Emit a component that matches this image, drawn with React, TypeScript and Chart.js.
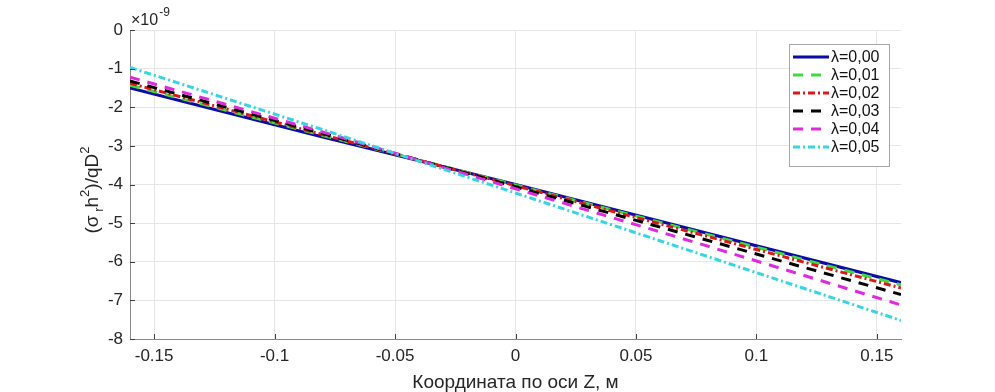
import React, { useEffect, useRef } from "react";
import { Chart, registerables } from "chart.js";

Chart.register(...registerables);

const xValues = [-0.16, -0.08, 0, 0.08, 0.16];
const lambda000 = [-1.5, -2.77, -4.0, -5.27, -6.54];
const lambda001 = [-1.43, -2.73, -4.01, -5.3, -6.6];
const lambda002 = [-1.38, -2.71, -4.03, -5.35, -6.68];
const lambda003 = [-1.32, -2.68, -4.06, -5.45, -6.85];
const lambda004 = [-1.22, -2.64, -4.11, -5.6, -7.12];
const lambda005 = [-0.97, -2.58, -4.22, -5.87, -7.52];
const seriesLabels = ["λ=0,00", "λ=0,01", "λ=0,02", "λ=0,03", "λ=0,04", "λ=0,05"];
const xTicks = [-0.15, -0.1, -0.05, 0, 0.05, 0.1, 0.15];
const yTicks = [0, -1, -2, -3, -4, -5, -6, -7, -8];

const FONT = '"Liberation Sans", Arial, Helvetica, sans-serif';
const TEXT = "#262626";

const styles = [
  { color: "#0b0ba6", dash: [] as number[], width: 3.2 },
  { color: "#3fdc3f", dash: [10, 8], width: 3 },
  { color: "#dd1616", dash: [7, 3, 2, 3], width: 3 },
  { color: "#000000", dash: [10, 8], width: 3 },
  { color: "#e02ae0", dash: [10, 8], width: 3 },
  { color: "#35d6e2", dash: [7, 3, 2, 3], width: 3 },
];

const allSeries = [lambda000, lambda001, lambda002, lambda003, lambda004, lambda005];

const overlay = {
  id: "overlay",
  afterDraw(chart: any) {
    const ctx = chart.ctx as CanvasRenderingContext2D;
    const { left, right, top, bottom } = chart.chartArea;
    const xs = chart.scales.x;
    const ys = chart.scales.y;
    ctx.save();
    // inward tick marks
    ctx.strokeStyle = "#404040";
    ctx.lineWidth = 1;
    ctx.setLineDash([]);
    for (const v of xTicks) {
      const px = Math.round(xs.getPixelForValue(v)) + 0.5;
      ctx.beginPath();
      ctx.moveTo(px, bottom);
      ctx.lineTo(px, bottom - 5);
      ctx.stroke();
    }
    for (const v of yTicks) {
      const py = Math.round(ys.getPixelForValue(v)) + 0.5;
      ctx.beginPath();
      ctx.moveTo(left, py);
      ctx.lineTo(left + 5, py);
      ctx.stroke();
    }
    // exponent label
    ctx.fillStyle = TEXT;
    ctx.textBaseline = "alphabetic";
    ctx.textAlign = "left";
    ctx.font = `16px ${FONT}`;
    ctx.fillText("×10", left + 1, top - 5);
    const w10 = ctx.measureText("×10").width;
    ctx.font = `12px ${FONT}`;
    ctx.fillText("-9", left + 1 + w10 + 1, top - 14);

    // x title
    ctx.font = `19px ${FONT}`;
    ctx.textAlign = "center";
    ctx.fillText("Координата по оси Z, м", (left + right) / 2, bottom + 49);

    // y title with sub/superscripts (rotated)
    const parts: { t: string; size: number; dy: number }[] = [
      { t: "(σ", size: 19, dy: 0 },
      { t: " r", size: 13, dy: 5 },
      { t: "h", size: 19, dy: 0 },
      { t: "2", size: 13, dy: -9 },
      { t: ")/qD", size: 19, dy: 0 },
      { t: "2", size: 13, dy: -9 },
    ];
    let total = 0;
    const widths: number[] = [];
    for (const p of parts) {
      ctx.font = `${p.size}px ${FONT}`;
      const w = ctx.measureText(p.t).width;
      widths.push(w);
      total += w;
    }
    ctx.translate(98, 190);
    ctx.rotate(-Math.PI / 2);
    ctx.textAlign = "left";
    let cx = -total / 2;
    parts.forEach((p, i) => {
      ctx.font = `${p.size}px ${FONT}`;
      ctx.fillText(p.t, cx, p.dy);
      cx += widths[i];
    });
    ctx.setTransform(1, 0, 0, 1, 0, 0);

    // legend box
    const bx = right - 112;
    const by = top + 14;
    const bw = 100;
    const bh = 122;
    ctx.fillStyle = "#ffffff";
    ctx.fillRect(bx, by, bw, bh);
    ctx.strokeStyle = "#a8a8a8";
    ctx.lineWidth = 1;
    ctx.strokeRect(bx + 0.5, by + 0.5, bw, bh);
    ctx.font = `16px ${FONT}`;
    ctx.textAlign = "left";
    ctx.textBaseline = "middle";
    seriesLabels.forEach((lab, i) => {
      const ry = by + 13 + i * 18;
      const st = styles[i];
      ctx.strokeStyle = st.color;
      ctx.lineWidth = st.width;
      ctx.setLineDash(st.dash);
      ctx.beginPath();
      ctx.moveTo(bx + 4, ry);
      ctx.lineTo(bx + 40, ry);
      ctx.stroke();
      ctx.setLineDash([]);
      ctx.fillStyle = "#111111";
      ctx.fillText(lab, bx + 42, ry + 1);
    });
    ctx.restore();
  },
};

export default function App() {
  const ref = useRef<HTMLCanvasElement | null>(null);
  useEffect(() => {
    document.body.style.margin = "0";
    const canvas = ref.current!;
    const datasets = allSeries.map((vals, i) => ({
      label: seriesLabels[i],
      data: vals.map((y, j) => ({ x: xValues[j], y })),
      borderColor: styles[i].color,
      backgroundColor: styles[i].color,
      borderWidth: styles[i].width,
      borderDash: styles[i].dash,
      pointRadius: 0,
      tension: 0,
      fill: false,
      order: 5 - i,
    }));
    const chart = new Chart(canvas, {
      type: "line",
      data: { datasets },
      options: {
        responsive: false,
        animation: false,
        layout: { padding: { left: 0, right: 94, top: 30, bottom: 0 } },
        plugins: {
          legend: { display: false },
          tooltip: { enabled: false },
        },
        scales: {
          x: {
            type: "linear",
            min: -0.16,
            max: 0.16,
            afterBuildTicks: (scale: any) => {
              scale.ticks = xTicks.map((v) => ({ value: v }));
            },
            afterFit: (scale: any) => {
              scale.height = 53;
            },
            ticks: {
              autoSkip: false,
              maxRotation: 0,
              padding: 7,
              color: TEXT,
              font: { family: FONT, size: 17 },
              callback: (v: any) => String(Number(Number(v).toFixed(2))),
            },
            grid: { color: "#e6e6e6", drawTicks: false, lineWidth: 1 },
            border: { display: true, color: "#8a8a8a", width: 1 },
          },
          y: {
            type: "linear",
            min: -8,
            max: 0,
            afterBuildTicks: (scale: any) => {
              scale.ticks = yTicks.map((v) => ({ value: v }));
            },
            afterFit: (scale: any) => {
              scale.width = 130;
            },
            ticks: {
              autoSkip: false,
              padding: 7,
              color: TEXT,
              font: { family: FONT, size: 17 },
              callback: (v: any) => String(v),
            },
            grid: { color: "#e6e6e6", drawTicks: false, lineWidth: 1 },
            border: { display: true, color: "#8a8a8a", width: 1 },
          },
        },
      },
      plugins: [overlay],
    } as any);
    return () => chart.destroy();
  }, []);
  return (
    <div style={{ width: 995, height: 392, background: "#fff" }}>
      <canvas ref={ref} width={995} height={392} style={{ display: "block" }} />
    </div>
  );
}
